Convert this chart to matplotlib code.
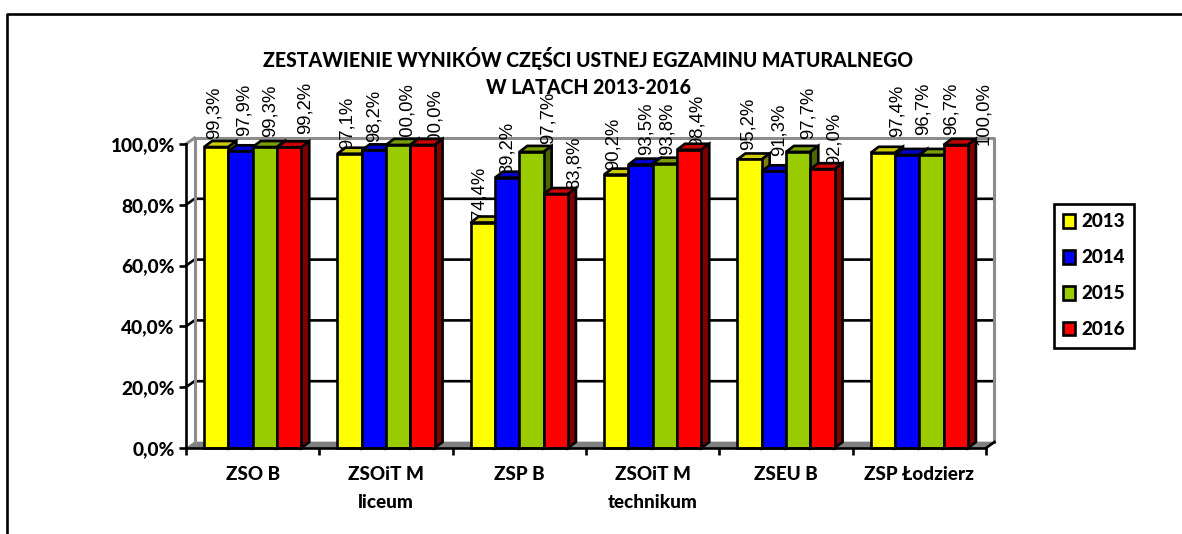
import matplotlib
matplotlib.use("Agg")
import matplotlib.pyplot as plt
from matplotlib.lines import Line2D
from matplotlib.patches import Polygon
from matplotlib.ticker import FuncFormatter

# values
categories = ["ZSO B", "ZSOiT M\nliceum", "ZSP B", "ZSOiT M\ntechnikum", "ZSEU B", "ZSP Łodzierz"]
years = ["2013", "2014", "2015", "2016"]
v2013 = [99.3, 97.1, 74.4, 90.2, 95.2, 97.4]
v2014 = [97.9, 98.2, 89.2, 93.5, 91.3, 96.7]
v2015 = [99.3, 100.0, 97.7, 93.8, 97.7, 96.7]
v2016 = [99.2, 100.0, 83.8, 98.4, 92.0, 100.0]
series = [v2013, v2014, v2015, v2016]

# label nudges in pixels, the original labels sit rather randomly
label_dx = [[-2, -2, -4, -3, -1, 14], [4, 0, 0, 6, 5, 16], [5, 8, 17, 2, 10, 20], [16, 12, 18, 8, 12, 28]]
label_up = [[60, 57, 56, 57, 62, 68], [68, 60, 56, 62, 68, 72], [62, 63, 60, 61, 65, 72], [65, 57, 57, 55, 56, 63]]

front = ["#FFFF00", "#0000FF", "#99CC00", "#FF0000"]
top = ["#CCCC00", "#0000CC", "#7A9F00", "#CC0000"]
side = ["#808000", "#000080", "#4D6600", "#800000"]

W, H = 1182, 534
LW = 1.9
main_font = "Lato"

fig = plt.figure(figsize=(W / 100, H / 100), dpi=100)
ax = fig.add_axes([186 / W, (H - 448) / H, 800 / W, 304 / H])
ax.set_xlim(0, 6)
ax.set_ylim(0, 100)
ax.patch.set_visible(False)

px = 6 / 800
py = 100 / 304
wall_dx = 8.5 * px
wall_dy = 6 * py
bar_dx = 8 * px
bar_dy = 6 * py
bar_w = 24.3 * px
bar_scale = 0.997

# walls and floor
ax.add_patch(Polygon([(0, 0), (wall_dx, wall_dy), (6 + wall_dx, wall_dy), (6, 0)],
                     facecolor="#808080", edgecolor="#808080", lw=0.5, zorder=1, clip_on=False))
ax.plot([wall_dx, wall_dx, 6 + wall_dx, 6 + wall_dx], [wall_dy, 100 + wall_dy, 100 + wall_dy, wall_dy],
        color="#8C8C8C", lw=2.2, zorder=1.2, clip_on=False)
ax.plot([0, wall_dx], [100, 100 + wall_dy], color="#8C8C8C", lw=2.2, zorder=1.2, clip_on=False)
ax.plot([6, 6 + wall_dx], [0, wall_dy], color="black", lw=LW, zorder=1.2, clip_on=False)
for g in [20, 40, 60, 80]:
    ax.plot([0, wall_dx, 6 + wall_dx - 2 * px], [g, g + wall_dy, g + wall_dy], color="black", lw=LW,
            zorder=1.1, clip_on=False)

# bars, front faces drawn over their own top and side
handles = []
for i, vals in enumerate(series):
    z = 3 + i
    xs = [c + 0.5 + (i - 1.5) * bar_w for c in range(len(categories))]
    heights = [v * bar_scale for v in vals]
    for x, h in zip(xs, heights):
        l, r = x - bar_w / 2, x + bar_w / 2
        ax.add_patch(Polygon([(l, h), (l + bar_dx, h + bar_dy), (r + bar_dx, h + bar_dy), (r, h)],
                             facecolor=top[i], edgecolor="black", lw=LW, zorder=z, clip_on=False))
        ax.add_patch(Polygon([(r, 0), (r + bar_dx, bar_dy), (r + bar_dx, h + bar_dy), (r, h)],
                             facecolor=side[i], edgecolor="black", lw=LW, zorder=z, clip_on=False))
    bars = ax.bar(xs, heights, bar_w, color=front[i], edgecolor="black", lw=LW, zorder=z + 0.5,
                  label=years[i], clip_on=False)
    handles.append(bars)
    for j, (x, h, v) in enumerate(zip(xs, heights, vals)):
        ax.annotate(f"{v:.1f}%".replace(".", ","), (x, h), xytext=(label_dx[i][j], label_up[i][j]),
                    textcoords="offset pixels", rotation=90, ha="center", va="top",
                    fontsize=13.3, family="Liberation Sans", zorder=2, annotation_clip=False)

# axes
for s in ["top", "right"]:
    ax.spines[s].set_visible(False)
for s in ["left", "bottom"]:
    ax.spines[s].set_linewidth(LW)
    ax.spines[s].set_zorder(8)
ax.set_yticks([0, 20, 40, 60, 80, 100])
ax.yaxis.set_major_formatter(FuncFormatter(lambda v, _: f"{v:.1f}%".replace(".", ",")))
ax.set_xticks(range(7))
ax.set_xticklabels([])
ax.set_xticks([c + 0.5 for c in range(6)], minor=True)
ax.set_xticklabels(categories, minor=True, fontweight="black", family=main_font, fontsize=13.6, linespacing=1.75)
ax.tick_params(axis="x", which="minor", length=0, pad=13)
ax.tick_params(axis="x", which="major", length=5, width=LW)
ax.tick_params(axis="y", length=5, width=LW, pad=3)
for t in ax.get_yticklabels():
    t.set_fontweight("black")
    t.set_family(main_font)
    t.set_fontsize(13.8)

# title
fig.text(588 / W, 1 - 59 / H, "ZESTAWIENIE WYNIKÓW CZĘŚCI USTNEJ EGZAMINU MATURALNEGO", ha="center", va="center",
         fontweight="black", family=main_font, fontsize=14.05)
fig.text(588 / W, 1 - 88 / H, "W LATACH 2013-2016", ha="center", va="center",
         fontweight="black", family=main_font, fontsize=14.05, zorder=10)

leg = fig.legend(handles=handles, loc="upper left", bbox_to_anchor=(1054 / W, 1 - 204 / H), borderaxespad=0,
                 fancybox=False, edgecolor="black", framealpha=1, handlelength=0.6, handleheight=0.75,
                 handletextpad=0.35, labelspacing=1.0, borderpad=0.5,
                 prop={"family": main_font, "weight": "black", "size": 13.6})
leg.get_frame().set_linewidth(LW)

# outer frame, runs off the right and bottom of the picture
fig.add_artist(Line2D([7 / W, 7 / W, 1], [0, 1 - 14 / H, 1 - 14 / H], color="black", lw=LW))

fig.savefig("out.png", dpi=100)
